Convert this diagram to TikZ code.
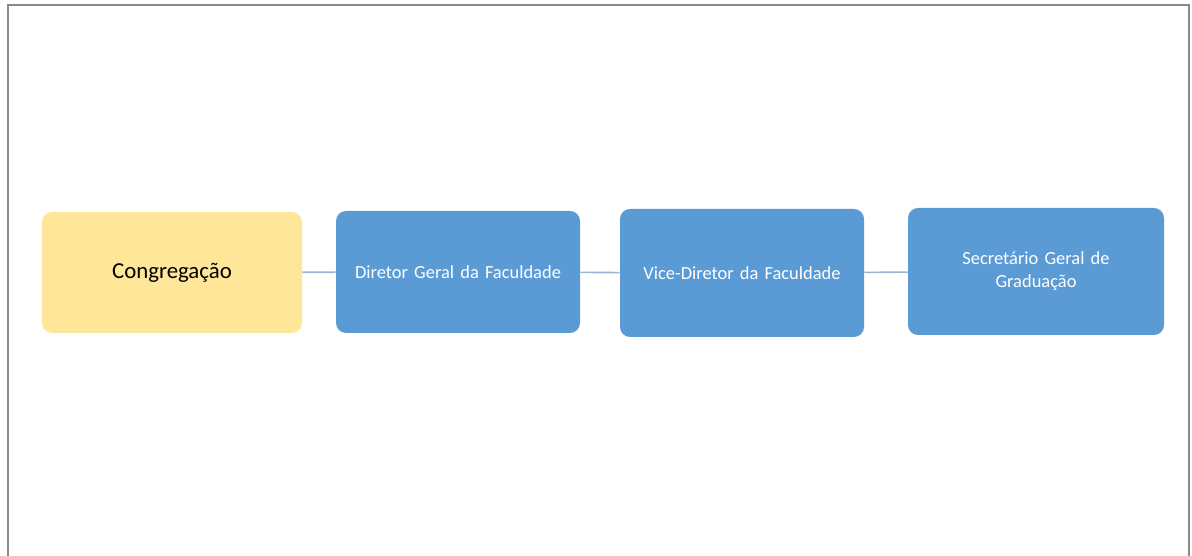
\documentclass[tikz,border=0pt]{standalone}
\usepackage{fontspec}
\setmainfont{Carlito}
\usepackage{tikz}

\definecolor{congyellow}{HTML}{FFE699}
\definecolor{dirblue}{HTML}{5B9BD5}
\definecolor{linkgray}{HTML}{9DB3D3}
\definecolor{framegray}{HTML}{8A8A8A}

\begin{document}
\begin{tikzpicture}[font=\fontsize{10.5}{13}\selectfont,
  unit/.style={shape=rectangle,rounded corners=0.2cm,fill=dirblue,text=white,text width=4.4cm,align=center,inner sep=0pt},
  link/.style={draw=linkgray,line width=0.9pt}]
\useasboundingbox (0,0) rectangle (23.84,11.12);
\draw[framegray,line width=1.1pt] (0.16,0)--(0.16,11.02)--(23.78,11.02)--(23.78,0);
\node(cong)[unit,fill=congyellow,text=black,font=\fontsize{13}{16}\selectfont,minimum width=5.2cm,minimum height=2.42cm] at (3.44,5.67){Congregação};
\node(dir)[unit,minimum width=4.88cm,minimum height=2.44cm] at (9.16,5.68){Diretor Geral da Faculdade};
\node(vice)[unit,minimum width=4.88cm,minimum height=2.56cm] at (14.84,5.66){Vice-Diretor da Faculdade};
\node(sec)[unit,minimum width=5.12cm,minimum height=2.54cm] at (20.72,5.69){Secretário Geral de\\ Graduação};
\draw[link] (cong)--(dir);
\draw[link] (dir)--(vice);
\draw[link] (vice)--(sec);
\end{tikzpicture}
\end{document}
